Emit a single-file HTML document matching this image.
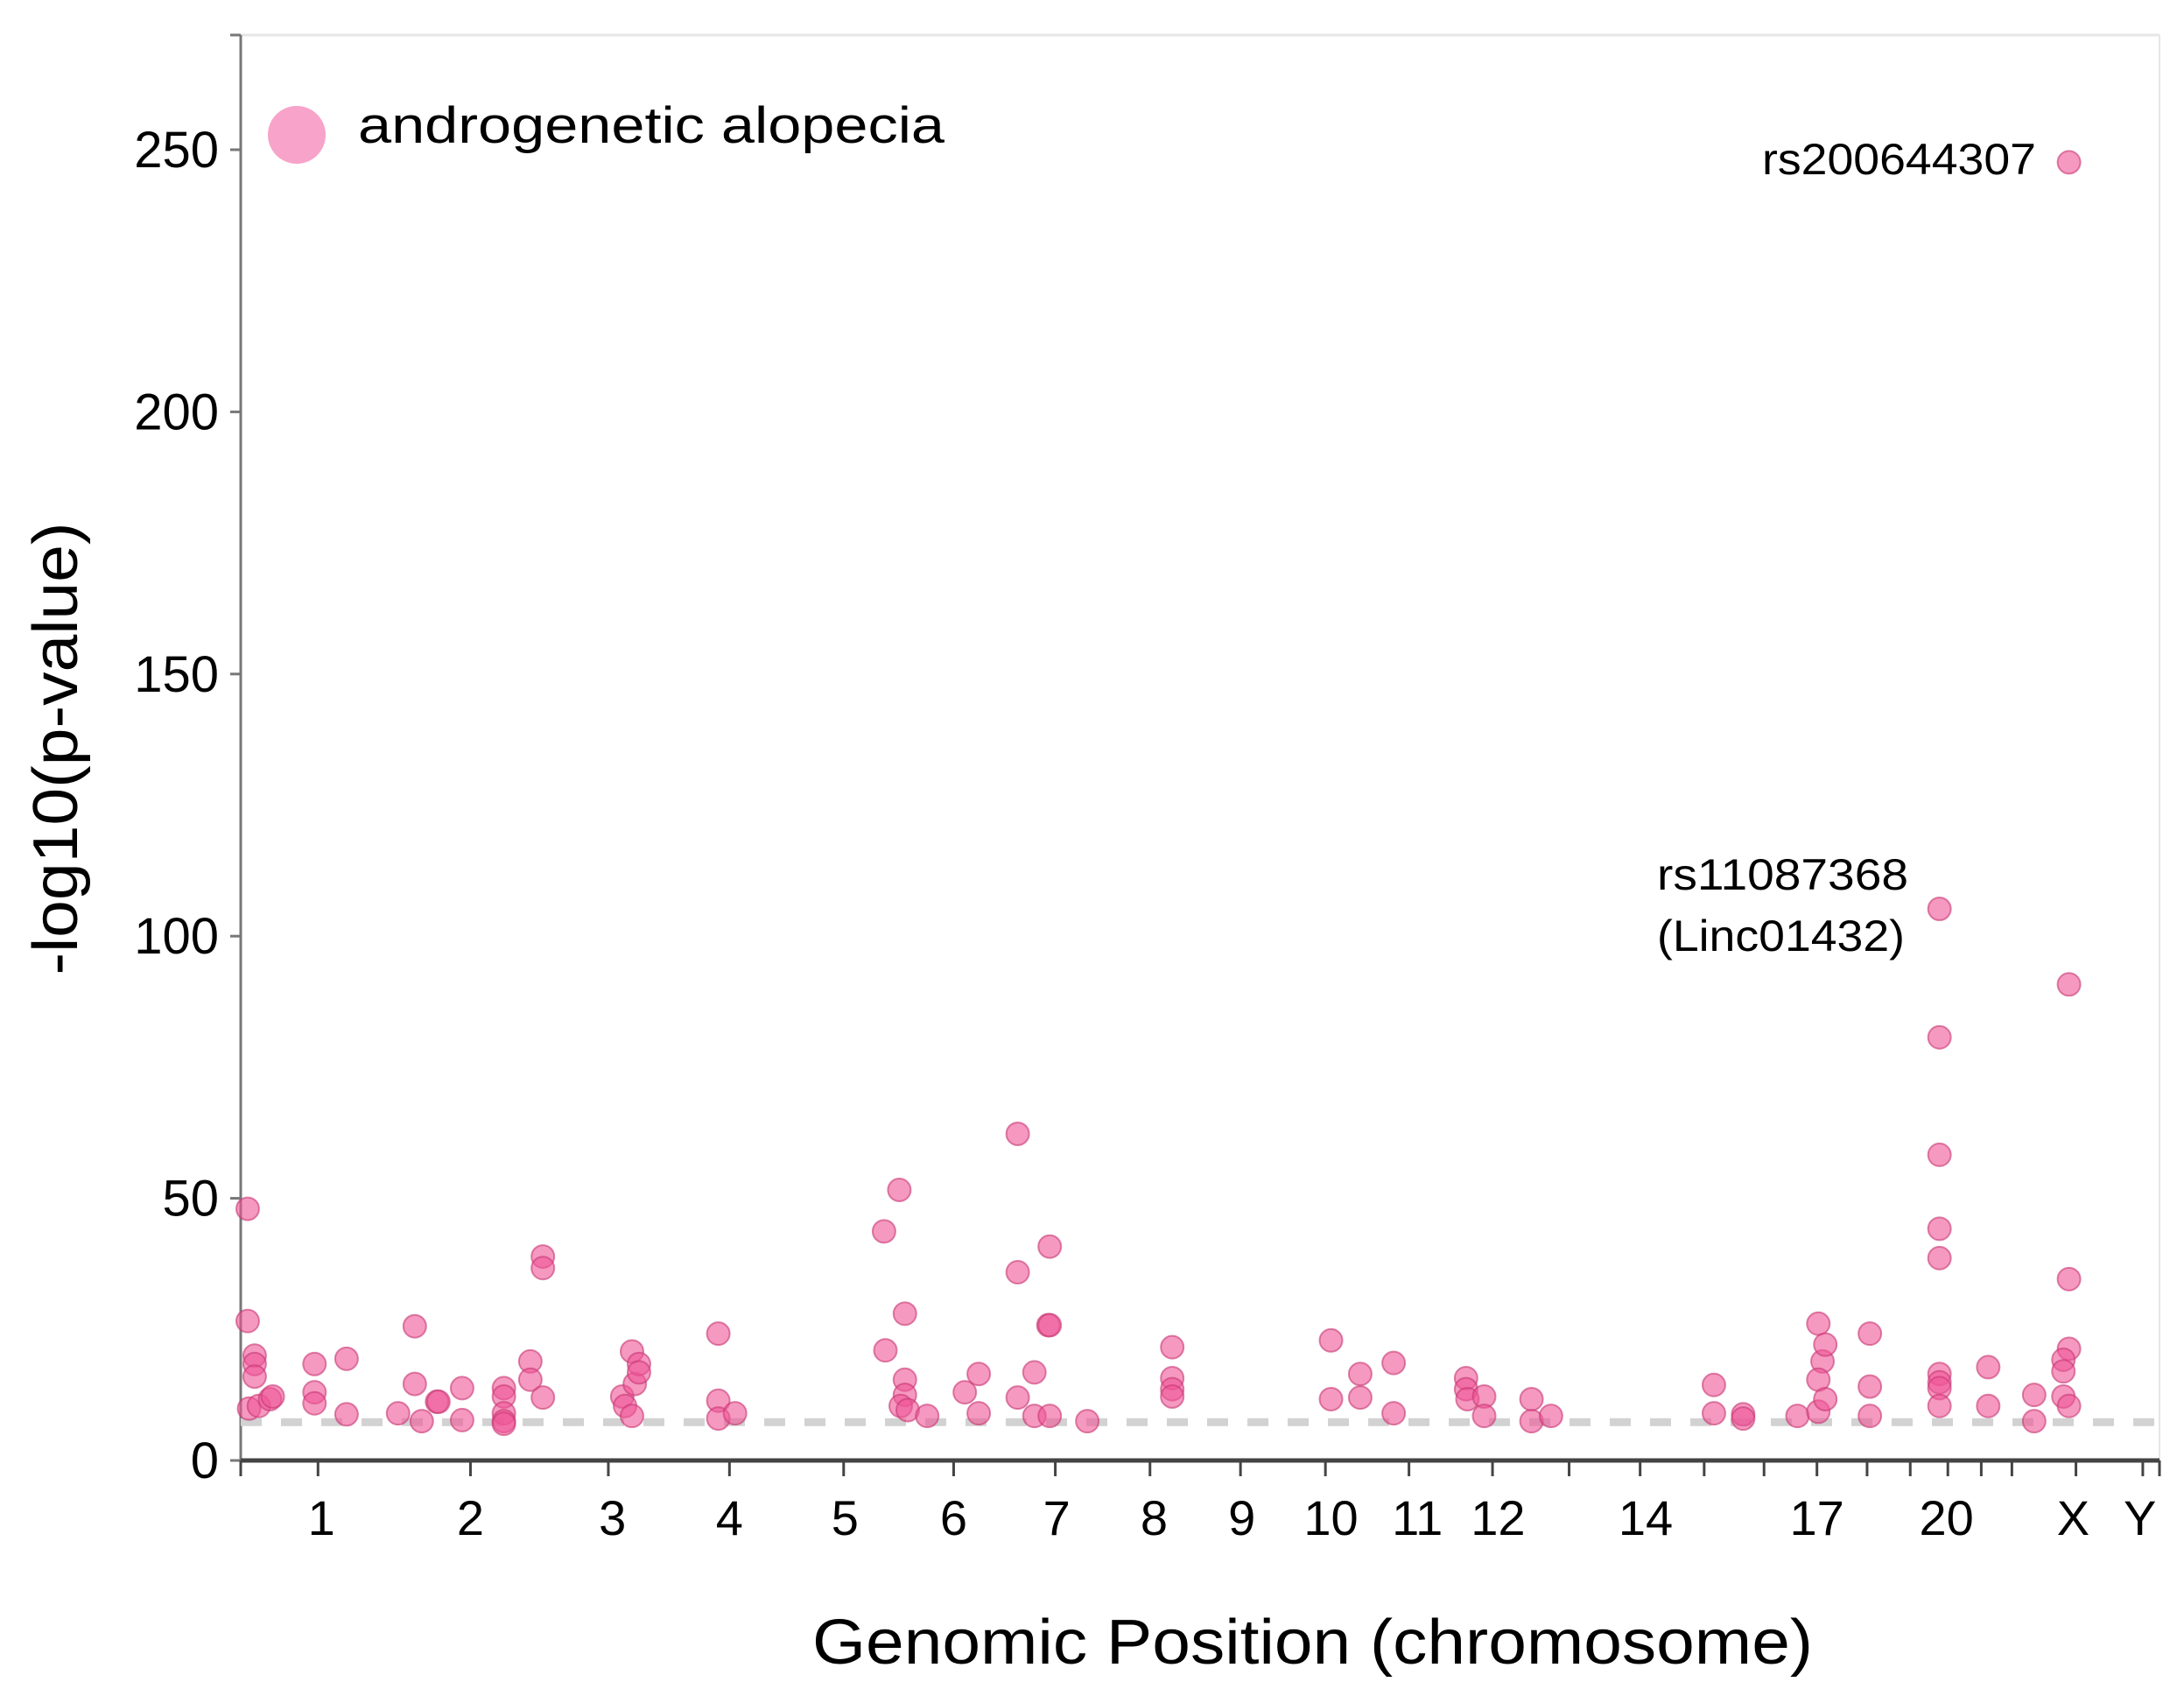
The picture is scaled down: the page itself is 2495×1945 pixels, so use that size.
<!DOCTYPE html>
<html><head><meta charset="utf-8"><style>
html,body{margin:0;padding:0;background:#fff;}
svg{display:block;font-family:"Liberation Sans",sans-serif;}
</style></head><body>
<svg id="chart" width="2495" height="1945" viewBox="0 0 2495 1945">
<g id="axes"></g><g id="marks"></g><g id="labels"></g>
</svg>
<script>
// genomic position units (cumulative), value = -log10(p)
const tickPositions = [0,55.5,165,264,351,433,512,585,653,718,779,839,899,954,1005,1051,1094,1132,1168,1199,1226,1250,1272,1318,1366,1378];
const chromLabels = ["1","2","3","4","5","6","7","8","9","10","11","12","14","17","20","X","Y"];
const chromLabelPos = [58,165,267,351,434,512,586,656,719,783,845,903,1009,1132,1225,1316,1364];
const yTicks = [0,50,100,150,200,250];
const positions = [5,5,10,10,10,6,13,21,23,53,53,53,76,76,125,125,113,130,141,142,159,159,189,189,189,189,189,208,208,217,217,217,274,276,281,283,286,286,281,343,343,343,355,462,473,477,463,477,477,474,479,493,520,530,530,558,558,558,570,570,581,580,581,581,608,669,669,669,669,783,783,804,804,828,828,880,880,881,893,893,927,927,941,1058,1058,1079,1079,1118,1133,1136,1138,1133,1133,1138,1170,1170,1170,1220,1220,1220,1220,1220,1220,1220,1220,1220,1255,1255,1288,1288,1313,1313,1313,1313,1309,1309,1309,1313];
const values = [48,26.6,20,18.4,16,9.9,10.4,11.7,12.2,18.4,13,10.9,19.4,8.8,25.6,14.6,9,7.5,11.2,11.2,13.8,7.7,13.8,12.2,9,7.5,7,18.9,15.4,38.9,36.7,12,12.2,10.4,20.8,14.6,18.4,16.8,8.5,24.2,11.4,8,9,43.7,51.6,28,21,15.4,12.5,10.4,9.6,8.5,13,16.5,9,62.3,35.9,12,16.8,8.5,40.8,25.8,25.8,8.5,7.5,21.6,15.7,13.6,12.2,22.9,11.7,16.5,12,18.6,9,15.7,13.6,11.7,12.2,8.5,11.7,7.5,8.5,14.4,9,8.8,8,8.5,26.1,18.9,22.1,15.4,9.3,11.7,24.2,14.1,8.5,105.2,80.7,58.3,44.2,38.6,16.5,14.9,13.8,10.4,17.8,10.4,12.5,7.5,247.6,90.8,34.6,21.3,19.2,17,12.2,10.4];
const threshold = 7.3;

const NS="http://www.w3.org/2000/svg";
const X0=275,X1=2467,Y0=1668,YTOP=40;
const xs=p=>X0+(p/1378)*(X1-X0);
const ys=v=>Y0-v*5.988;
function mk(tag,attrs,parent,text){const e=document.createElementNS(NS,tag);for(const k in attrs)e.setAttribute(k,attrs[k]);if(text!==undefined)e.textContent=text;parent.appendChild(e);return e;}
const axes=document.getElementById('axes'),marks=document.getElementById('marks'),labels=document.getElementById('labels');

let e;
e=mk('line',{x1:X0,y1:YTOP,x2:X1,y2:YTOP,stroke:'#e6e6e6','stroke-width':3},axes);


e=mk('line',{x1:X1,y1:YTOP,x2:X1,y2:Y0,stroke:'#e6e6e6','stroke-width':2},axes);


e=mk('line',{x1:X0,y1:YTOP,x2:X0,y2:Y0,stroke:'#777','stroke-width':3},axes);


yTicks.forEach(t=>{
  const tk=mk('line',{x1:X0-12,y1:ys(t),x2:X0,y2:ys(t),stroke:'#777','stroke-width':3},axes);
  
  
  const tl=mk('text',{x:250,y:ys(t)+20,'text-anchor':'end','font-size':58,fill:'#000'},axes,String(t));
  
  
});
e=mk('line',{x1:X0-12,y1:YTOP,x2:X0,y2:YTOP,stroke:'#777','stroke-width':3},axes);


e=mk('line',{x1:X0,y1:Y0,x2:X1,y2:Y0,stroke:'#444','stroke-width':5},axes);


tickPositions.forEach(p=>{
  const tk=mk('line',{x1:xs(p),y1:Y0,x2:xs(p),y2:Y0+18,stroke:'#444','stroke-width':3},axes);
  
  
});
chromLabels.forEach((c,i)=>{
  const tl=mk('text',{x:xs(chromLabelPos[i]),y:1753,'text-anchor':'middle','font-size':56,fill:'#000'},axes,c);
  
  
});
e=mk('line',{x1:X0,y1:ys(threshold),x2:X1,y2:ys(threshold),stroke:'#d2d2d2','stroke-width':9,'stroke-dasharray':'24 22'},axes);



positions.forEach((p,i)=>{
  const c=mk('circle',{cx:xs(p),cy:ys(values[i]),r:13,fill:'rgba(238,85,150,0.6)',stroke:'rgba(200,55,115,0.6)','stroke-width':2},marks);
  
  
});

e=mk('circle',{cx:339,cy:154,r:33,fill:'#f8a3c9'},labels);


e=mk('text',{x:409,y:163,'font-size':58,fill:'#000',textLength:670,lengthAdjust:'spacingAndGlyphs'},labels,'androgenetic alopecia');


e=mk('text',{x:2013,y:199,'font-size':50,fill:'#000',textLength:313,lengthAdjust:'spacingAndGlyphs'},labels,'rs200644307');


e=mk('text',{x:1893,y:1016,'font-size':50,fill:'#000',textLength:287,lengthAdjust:'spacingAndGlyphs'},labels,'rs11087368');


e=mk('text',{x:1893,y:1086,'font-size':50,fill:'#000',textLength:283,lengthAdjust:'spacingAndGlyphs'},labels,'(Linc01432)');


e=mk('text',{x:928,y:1900,'font-size':72,fill:'#000',textLength:1143,lengthAdjust:'spacingAndGlyphs'},labels,'Genomic Position (chromosome)');


e=mk('text',{x:0,y:0,'font-size':72,fill:'#000','text-anchor':'middle',textLength:517,lengthAdjust:'spacingAndGlyphs',transform:'translate(88,855) rotate(-90)'},labels,'-log10(p-value)');


</script>
</body></html>
